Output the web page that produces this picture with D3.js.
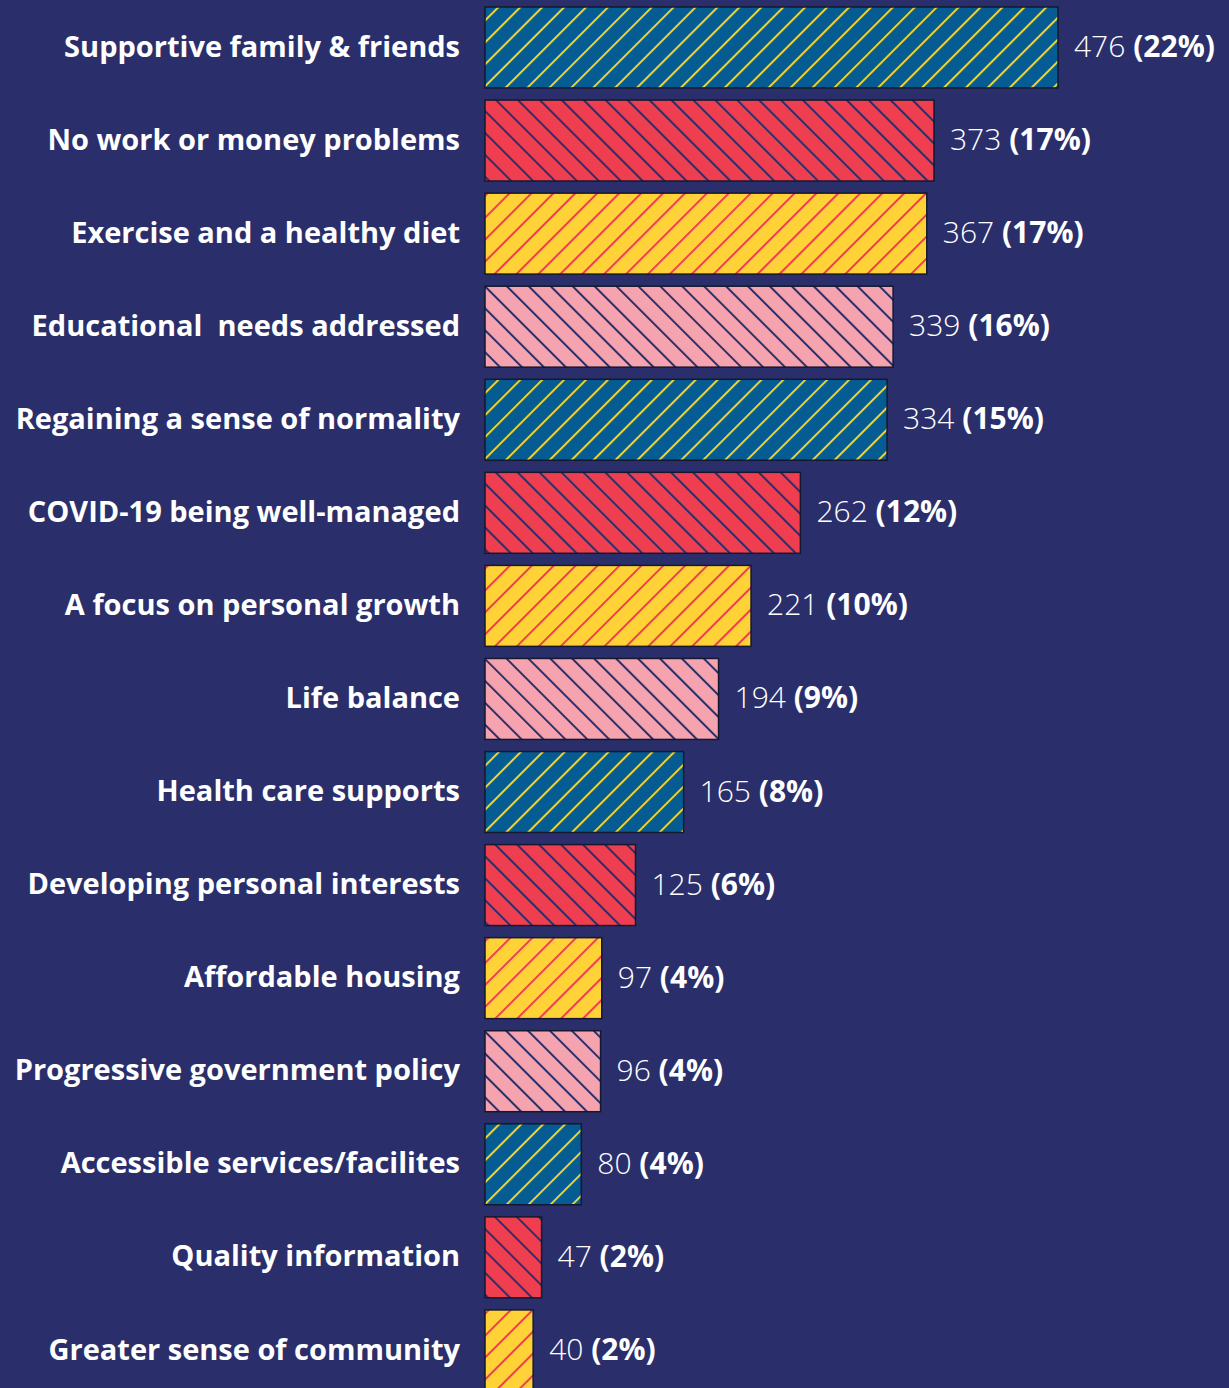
<!DOCTYPE html>
<html><head><meta charset="utf-8">
<script src="https://cdn.jsdelivr.net/npm/d3@7"></script>
<style>
html,body{margin:0;padding:0;background:#2a2f6b;overflow:hidden}
svg{display:block}
</style></head>
<body>
<script>
const categories = ["Supportive family & friends","No work or money problems","Exercise and a healthy diet","Educational  needs addressed","Regaining a sense of normality","COVID-19 being well-managed","A focus on personal growth","Life balance","Health care supports","Developing personal interests","Affordable housing","Progressive government policy","Accessible services/facilites","Quality information","Greater sense of community"];
const values = [476,373,367,339,334,262,221,194,165,125,97,96,80,47,40];
const percents = ["22%","17%","17%","16%","15%","12%","10%","9%","8%","6%","4%","4%","4%","2%","2%"];
const styleCycle = ["blue","red","yellow","pink"];

const W=1229,H=1388;
const svg=d3.select("body").append("svg").attr("width",W).attr("height",H);
svg.append("rect").attr("width",W).attr("height",H).attr("fill","#2a2f6b");

const pats={
  blue:{bg:"#055c93",line:"#f2d22e",angle:45},
  red:{bg:"#ef3e4f",line:"#2a2f6b",angle:-45},
  yellow:{bg:"#ffd338",line:"#ef3e4f",angle:45},
  pink:{bg:"#f5a3ae",line:"#2a2f6b",angle:-45}
};
const defs=svg.append("defs");
Object.entries(pats).forEach(([k,p])=>{
  const s=15.5;
  const pt=defs.append("pattern").attr("id","p-"+k).attr("patternUnits","userSpaceOnUse")
    .attr("width",s).attr("height",s).attr("patternTransform",`rotate(${p.angle})`);
  pt.append("rect").attr("width",s).attr("height",s).attr("fill",p.bg);
  pt.append("line").attr("x1",1).attr("y1",0).attr("x2",1).attr("y2",s)
    .attr("stroke",p.line).attr("stroke-width",2);
});

const y=d3.scaleBand().domain(categories).range([7,1390.9]).paddingInner(0.13).paddingOuter(0);
const x=d3.scaleLinear().domain([0,476]).range([485,1058]);

const g=svg.append("g");
g.selectAll("rect.bar").data(categories).join("rect").attr("class","bar")
  .attr("x",x(0)).attr("y",d=>y(d))
  .attr("width",(d,i)=>x(values[i])-x(0)).attr("height",y.bandwidth())
  .attr("fill",(d,i)=>`url(#p-${styleCycle[i%4]})`)
  .attr("stroke","#15182e").attr("stroke-width",1.5);

g.selectAll("text.cat").data(categories).join("text").attr("class","cat")
  .attr("x",460).attr("y",d=>y(d)+y.bandwidth()/2 - 1).attr("dy","0.35em")
  .attr("text-anchor","end").attr("fill","#fff")
  .style("white-space","pre")
  .style("font-family","'Open Sans', sans-serif").style("font-weight",700).style("font-size","29px")
  .text(d=>d);

const vt=g.selectAll("text.val").data(categories).join("text").attr("class","val")
  .attr("x",(d,i)=>x(values[i])+16).attr("y",d=>y(d)+y.bandwidth()/2 - 1).attr("dy","0.35em")
  .attr("fill","#fff").style("font-family","'Open Sans', sans-serif").style("font-size","30px");
vt.append("tspan").style("font-weight",300).text((d,i)=>values[i]+" ");
vt.append("tspan").style("font-weight",700).text((d,i)=>"("+percents[i]+")");
</script>
</body></html>
